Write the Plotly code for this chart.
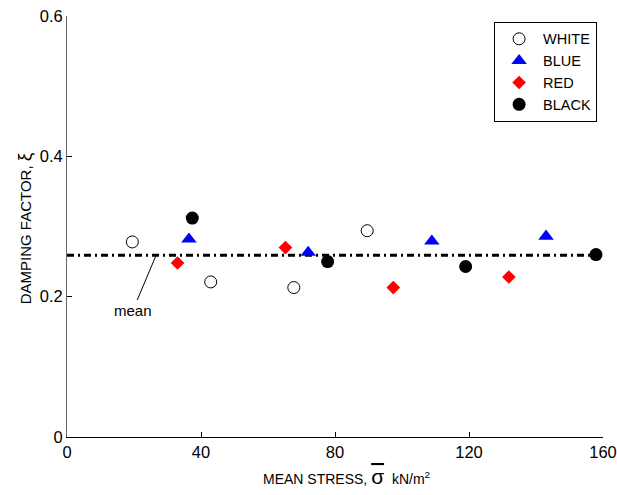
import plotly.graph_objects as go

# Data
white_x = [19.5, 42.9, 67.7, 89.6]
white_y = [0.278, 0.221, 0.213, 0.294]
blue_x = [36.4, 72.0, 108.9, 143.0]
blue_y = [0.282, 0.263, 0.279, 0.286]
red_x = [33.0, 65.2, 97.4, 131.9]
red_y = [0.248, 0.270, 0.213, 0.228]
black_x = [37.4, 77.8, 119.0, 157.9]
black_y = [0.312, 0.250, 0.243, 0.260]
mean_value = 0.259
mean_x = [0, 160]
x_ticks = [0, 40, 80, 120, 160]
y_ticks = [0, 0.2, 0.4, 0.6]

FONT = "Liberation Sans, Arial, sans-serif"

fig = go.Figure()

fig.add_trace(go.Scatter(
    x=mean_x, y=[mean_value, mean_value], mode="lines",
    line=dict(color="black", width=3, dash="7px,4px,2px,4px"),
    showlegend=False, hoverinfo="skip"))

fig.add_trace(go.Scatter(
    x=white_x, y=white_y, mode="markers", name="WHITE",
    marker=dict(symbol="circle", size=12, color="white",
                line=dict(color="black", width=1))))
fig.add_trace(go.Scatter(
    x=blue_x, y=blue_y, mode="markers", name="BLUE",
    marker=dict(symbol="triangle-up", size=13.5, color="#0000ff",
                line=dict(width=0))))
fig.add_trace(go.Scatter(
    x=red_x, y=red_y, mode="markers", name="RED",
    marker=dict(symbol="diamond", size=10.5, color="#ff0000",
                line=dict(width=0))))
fig.add_trace(go.Scatter(
    x=black_x, y=black_y, mode="markers", name="BLACK",
    marker=dict(symbol="circle", size=13, color="black",
                line=dict(width=0))))

# "mean" label with leader line
fig.add_annotation(
    x=26.6, y=mean_value, ax=19.7, ay=0.181, axref="x", ayref="y",
    xref="x", yref="y", text="mean", showarrow=True, arrowhead=0,
    arrowwidth=1, arrowcolor="black",
    font=dict(family=FONT, size=15, color="black"))

# Axis titles
fig.add_annotation(
    xref="paper", yref="paper", x=0.522, y=-0.093, xanchor="center",
    yanchor="middle", showarrow=False,
    text="MEAN STRESS, <span style='font-size:21px;text-decoration:overline'>σ</span>  kN/m<sup>2</sup>",
    font=dict(family=FONT, size=14, color="black"))
fig.add_annotation(
    xref="paper", yref="paper", x=-0.080, y=0.496, xanchor="center",
    yanchor="middle", showarrow=False, textangle=-90,
    text="DAMPING FACTOR, <span style='font-size:19px'>ξ</span>",
    font=dict(family=FONT, size=15, color="black"))

fig.update_layout(
    width=617, height=495,
    margin=dict(l=67, r=14, t=16, b=58, autoexpand=False),
    paper_bgcolor="white", plot_bgcolor="white",
    font=dict(family=FONT, size=16.5, color="black"),
    legend=dict(x=0.989, y=0.986, xanchor="right", yanchor="top",
                bordercolor="black", borderwidth=1, bgcolor="white",
                font=dict(family=FONT, size=14.5), tracegroupgap=0,
                itemwidth=38),
    xaxis=dict(range=[0, 160], tickvals=x_ticks, ticks="inside", ticklen=5,
               tickcolor="black", showline=True, linecolor="black",
               linewidth=1, showgrid=False, zeroline=False, mirror=False,
               ticklabeloverflow="allow",
               tickfont=dict(family=FONT, size=16.5)),
    yaxis=dict(range=[0, 0.6], tickvals=y_ticks, ticktext=["0", "0.2", "0.4", "0.6"],
               ticks="inside", ticklen=5,
               tickcolor="black", showline=True, linecolor="#666666",
               linewidth=1, showgrid=False, zeroline=False, mirror=False,
               ticklabeloverflow="allow",
               tickfont=dict(family=FONT, size=16.5)),
    showlegend=True,
)

fig.write_html(
    "out.html",
    config={"displayModeBar": False},
    post_script="document.body.style.margin='0';document.body.style.overflow='hidden';",
)
